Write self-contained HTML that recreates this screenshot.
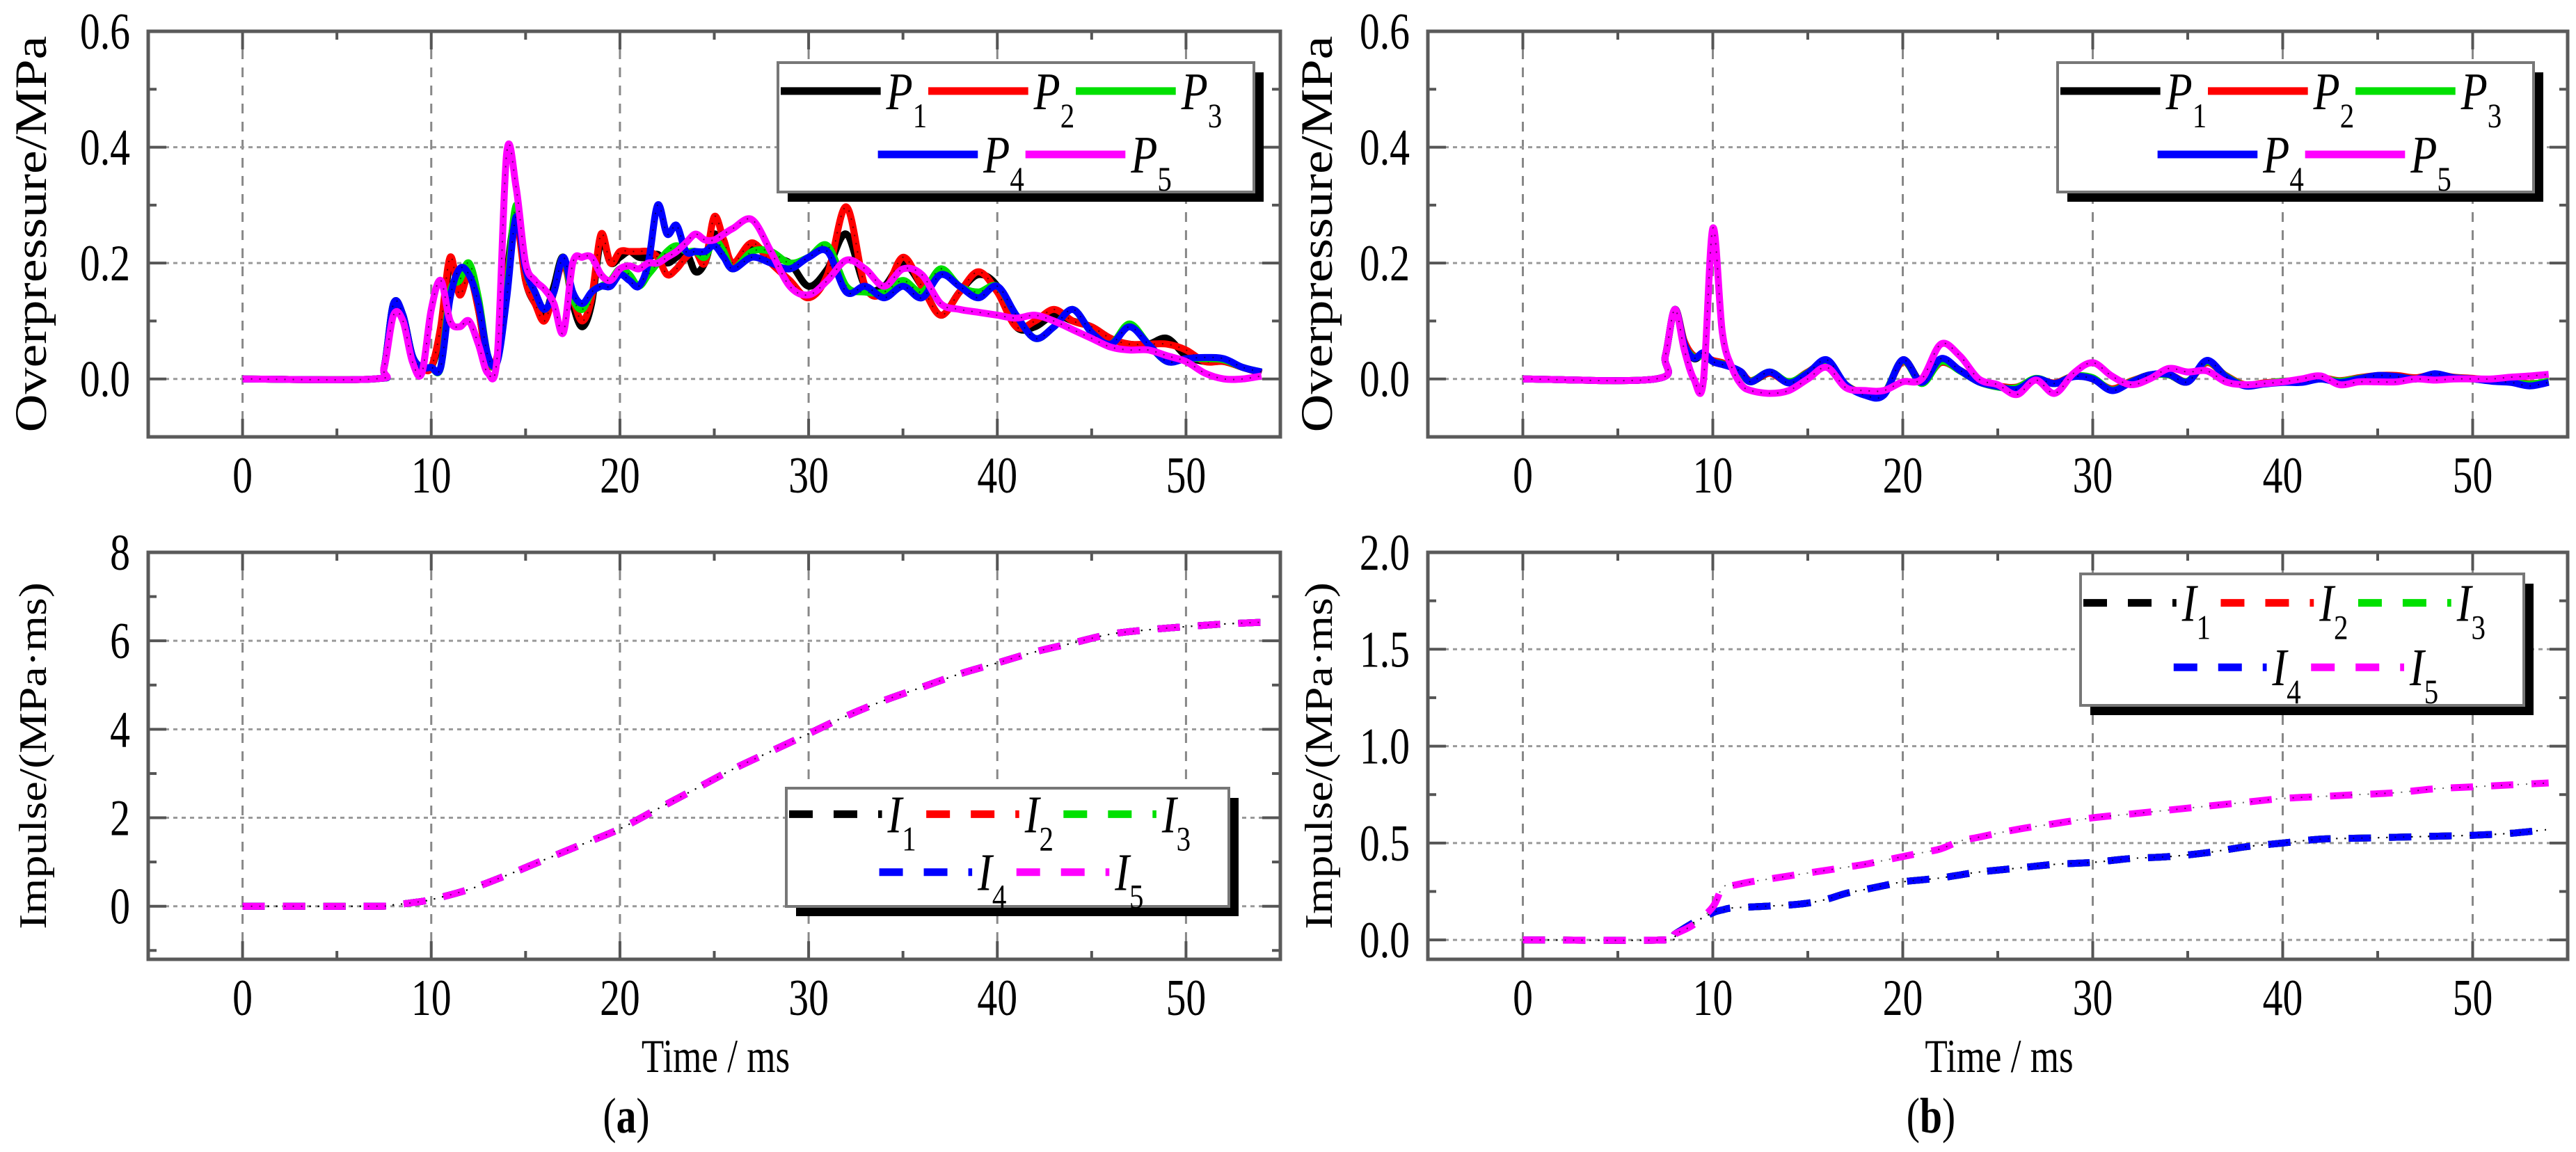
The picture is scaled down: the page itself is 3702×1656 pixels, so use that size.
<!DOCTYPE html>
<html><head><meta charset="utf-8"><style>
html,body{margin:0;padding:0;background:#fff;width:3702px;height:1656px;overflow:hidden}
svg{display:block;font-family:"Liberation Serif",serif}
</style></head><body>
<svg id="fig" width="3702" height="1656" viewBox="0 0 3702 1656"></svg>
<script>
// ---------- data ----------
const timesP = [0,7,7.5,8,8.5,9,9.5,10,10.5,11,11.5,12,12.5,13,13.5,14,14.5,15,15.5,16,16.5,17,17.5,18,18.5,19,19.5,20,20.5,21,21.5,22,22.5,23,23.5,24,24.5,25,25.5,26,27,28,29,30,31,32,33,34,35,36,37,38,39,40,41,42,43,44,45,46,47,48,49,50,51,52,53,54];
const p1a = [0,0,0.02,0.12,0.11,0.04,0.02,0.02,0.08,0.2,0.16,0.19,0.12,0.03,0.04,0.18,0.28,0.17,0.13,0.11,0.16,0.21,0.13,0.09,0.13,0.24,0.2,0.21,0.22,0.21,0.21,0.215,0.2,0.21,0.22,0.185,0.2,0.25,0.22,0.19,0.23,0.21,0.2,0.16,0.19,0.25,0.16,0.16,0.2,0.16,0.11,0.15,0.18,0.16,0.09,0.09,0.11,0.1,0.09,0.07,0.06,0.06,0.07,0.04,0.03,0.03,0.02,0.01];
const p2a = [0,0,0.02,0.13,0.11,0.04,0.02,0.02,0.09,0.21,0.145,0.18,0.12,0.03,0.04,0.17,0.27,0.17,0.13,0.1,0.15,0.2,0.14,0.1,0.14,0.25,0.2,0.22,0.22,0.22,0.22,0.21,0.18,0.19,0.21,0.22,0.2,0.28,0.24,0.2,0.235,0.2,0.17,0.14,0.18,0.297,0.16,0.15,0.21,0.16,0.11,0.15,0.185,0.15,0.09,0.1,0.12,0.1,0.09,0.07,0.06,0.06,0.06,0.05,0.03,0.03,0.02,0.01];
const p3a = [0,0,0.02,0.13,0.11,0.04,0.02,0.02,0.02,0.15,0.17,0.2,0.14,0.04,0.03,0.15,0.3,0.19,0.15,0.12,0.15,0.21,0.14,0.12,0.15,0.16,0.17,0.19,0.18,0.16,0.18,0.2,0.22,0.23,0.22,0.22,0.21,0.24,0.22,0.19,0.22,0.22,0.2,0.21,0.23,0.16,0.15,0.15,0.17,0.15,0.19,0.16,0.15,0.16,0.11,0.07,0.09,0.12,0.08,0.06,0.095,0.06,0.03,0.035,0.035,0.033,0.02,0.012];
const p4a = [0,0,0.02,0.13,0.11,0.04,0.02,0.02,0.02,0.14,0.19,0.18,0.13,0.04,0.03,0.14,0.28,0.19,0.15,0.12,0.15,0.21,0.15,0.13,0.15,0.16,0.16,0.18,0.17,0.16,0.2,0.3,0.25,0.265,0.22,0.22,0.22,0.23,0.21,0.19,0.21,0.2,0.19,0.21,0.22,0.15,0.16,0.14,0.16,0.14,0.18,0.16,0.14,0.16,0.11,0.07,0.09,0.12,0.08,0.06,0.09,0.06,0.03,0.035,0.037,0.035,0.02,0.012];
const p5a = [0,0,0.02,0.11,0.1,0.03,0.01,0.12,0.17,0.1,0.09,0.1,0.06,0.01,0.04,0.39,0.33,0.2,0.17,0.155,0.13,0.08,0.2,0.21,0.21,0.18,0.17,0.19,0.195,0.19,0.2,0.2,0.21,0.22,0.235,0.25,0.24,0.24,0.25,0.26,0.275,0.22,0.16,0.145,0.17,0.205,0.19,0.16,0.19,0.18,0.13,0.12,0.115,0.11,0.105,0.11,0.1,0.085,0.07,0.055,0.05,0.05,0.04,0.03,0.01,0,0,0.005];

const timesPb = [0,7,7.5,8,8.5,9,9.5,10,10.5,11,11.5,12,13,14,15,16,17,18,19,20,21,22,23,24,25,26,27,28,29,30,31,32,33,34,35,36,37,38,39,40,41,42,43,44,45,46,47,48,49,50,51,52,53,54];
const p1b = [0,0,0.04,0.12,0.06,0.035,0.042,0.03,0.025,0.02,0.01,-0.005,0.01,-0.005,0.01,0.03,-0.01,-0.027,-0.027,0.033,-0.005,0.03,0.015,-0.005,-0.013,-0.015,0,-0.008,0.005,0,-0.019,-0.005,0.007,0.007,-0.005,0.031,0.005,-0.011,-0.008,-0.005,-0.005,0,-0.005,0,0.005,0.005,0,0.008,0.002,0,-0.003,-0.005,-0.01,-0.005];
const p2b = [0,0,0.04,0.12,0.065,0.04,0.04,0.032,0.028,0.02,0.012,-0.003,0.01,-0.006,0.012,0.028,-0.01,-0.025,-0.025,0.03,-0.005,0.028,0.015,-0.004,-0.012,-0.014,0,-0.007,0.005,0,-0.017,-0.004,0.006,0.008,-0.004,0.028,0.006,-0.01,-0.007,-0.004,-0.003,0.002,-0.003,0.002,0.006,0.006,0.002,0.008,0.003,0.001,-0.002,-0.004,-0.008,-0.006];
const p3b = [0,0,0.04,0.12,0.06,0.038,0.04,0.03,0.026,0.02,0.01,-0.004,0.012,-0.005,0.011,0.031,-0.01,-0.026,-0.026,0.032,-0.008,0.03,0.014,-0.005,-0.014,-0.015,0.001,-0.008,0.005,0.002,-0.019,-0.005,0.006,0.007,-0.004,0.03,0.005,-0.011,-0.008,-0.004,-0.004,0.001,-0.004,0.001,0.005,0.004,0,0.007,0.002,0,-0.003,-0.005,-0.009,-0.004];
const p4b = [0,0,0.04,0.12,0.06,0.036,0.045,0.03,0.025,0.02,0.012,-0.005,0.012,-0.007,0.01,0.033,-0.01,-0.028,-0.028,0.033,-0.006,0.035,0.015,-0.005,-0.013,-0.018,0,-0.008,0.004,0,-0.02,-0.006,0.007,0.008,-0.005,0.032,0.004,-0.012,-0.009,-0.006,-0.006,0,-0.006,0,0.006,0.004,0,0.009,0.002,0,-0.004,-0.006,-0.012,-0.006];
const p5b = [0,0,0.04,0.12,0.05,0,-0.005,0.26,0.08,0.02,-0.01,-0.02,-0.025,-0.02,0,0.02,-0.015,-0.02,-0.02,-0.005,0,0.06,0.04,0,-0.01,-0.027,-0.002,-0.025,0.01,0.028,0.005,-0.01,0,0.018,0.012,0.014,-0.005,-0.01,-0.008,-0.005,0,0.005,-0.01,-0.005,-0.005,-0.005,0,-0.002,0,0,0,0.003,0.005,0.008];

const timesIa = [0,7,8,9,10,12,14,16,18,20,22,24,26,28,30,32,34,36,38,40,42,44,46,48,50,52,54];
const iaAll = [0,0,0.03,0.08,0.15,0.38,0.7,1.05,1.4,1.75,2.2,2.65,3.1,3.5,3.9,4.3,4.65,4.95,5.25,5.5,5.75,5.95,6.15,6.25,6.32,6.38,6.42];

const timesIb = [0,7.5,8,9,10,10.5,11,12,13,14,15,16,17,18,19,20,21,22,23,24,26,28,30,32,34,36,38,40,42,44,46,48,50,52,54];
const ib14 = [0,0,0.03,0.09,0.14,0.155,0.165,0.17,0.175,0.18,0.19,0.21,0.24,0.26,0.28,0.3,0.31,0.32,0.335,0.35,0.37,0.39,0.4,0.42,0.43,0.45,0.48,0.5,0.52,0.525,0.53,0.535,0.54,0.55,0.57];
const ib5  = [0,0,0.03,0.08,0.17,0.27,0.28,0.3,0.315,0.33,0.345,0.36,0.375,0.39,0.41,0.43,0.45,0.47,0.51,0.53,0.57,0.6,0.63,0.65,0.67,0.69,0.71,0.73,0.74,0.75,0.76,0.78,0.79,0.8,0.81];

const colors = ['#000000','#ff0000','#00e000','#0000ff','#ff00ff'];
const xTicks = [0,10,20,30,40,50];
const yTicksP = [0.0,0.2,0.4,0.6];
const yTicksIa = [0,2,4,6,8];
const yTicksIb = [0.0,0.5,1.0,1.5,2.0];

// ---------- helpers ----------
const NS='http://www.w3.org/2000/svg';
const svg=document.getElementById('fig');
function mk(tag,attrs,parent){const e=document.createElementNS(NS,tag);for(const k in attrs)e.setAttribute(k,attrs[k]);(parent||svg).appendChild(e);return e;}
// narrow (horizontally compressed) text like the reference
function ntext(parent,x,y,size,anchor,str,sx){
  const t=mk('text',{x:0,y:0,"font-size":size,"text-anchor":anchor,transform:'translate('+x+' '+y+') scale('+(sx||0.78)+' 1)'},parent);
  t.textContent=str;
  return t;
}
function smoothPath(pts){
  let d='M'+pts[0][0].toFixed(1)+','+pts[0][1].toFixed(1);
  for(let i=0;i<pts.length-1;i++){
    const p0=pts[Math.max(0,i-1)],p1=pts[i],p2=pts[i+1],p3=pts[Math.min(pts.length-1,i+2)];
    const c1x=p1[0]+(p2[0]-p0[0])/6,c1y=p1[1]+(p2[1]-p0[1])/6;
    const c2x=p2[0]-(p3[0]-p1[0])/6,c2y=p2[1]-(p3[1]-p1[1])/6;
    d+=' C'+c1x.toFixed(1)+','+c1y.toFixed(1)+' '+c2x.toFixed(1)+','+c2y.toFixed(1)+' '+p2[0].toFixed(1)+','+p2[1].toFixed(1);
  }
  return d;
}

function panel(cfg){
  const g=mk('g',{});
  
  
  const X=v=>cfg.x0+(v-(-5))/(60)*(cfg.x1-cfg.x0);
  const Y=v=>cfg.y1-(v-cfg.ymin)/(cfg.ymax-cfg.ymin)*(cfg.y1-cfg.y0);
  xTicks.forEach(t=>{
    const l=mk('line',{x1:X(t),x2:X(t),y1:cfg.y0,y2:cfg.y1,stroke:'#888',"stroke-width":3,"stroke-dasharray":'14,12'},g);
    
    
  });
  cfg.yticks.forEach(t=>{
    const l=mk('line',{x1:cfg.x0,x2:cfg.x1,y1:Y(t),y2:Y(t),stroke:'#999',"stroke-width":3,"stroke-dasharray":'6,6'},g);
    
    
  });
  for(let t=-5;t<=55;t+=5){
    const len=(t%10===0)?26:12;
    mk('line',{x1:X(t),x2:X(t),y1:cfg.y1,y2:cfg.y1-len,stroke:'#555',"stroke-width":4},g);
    mk('line',{x1:X(t),x2:X(t),y1:cfg.y0,y2:cfg.y0+len,stroke:'#555',"stroke-width":4},g);
  }
  const step=cfg.yticks[1]-cfg.yticks[0];
  for(let v=cfg.yticks[0]-step/2;v<=cfg.ymax+1e-9;v+=step/2){
    if(v<cfg.ymin-1e-9)continue;
    const major=Math.abs(((v-cfg.yticks[0])/step)-Math.round((v-cfg.yticks[0])/step))<1e-6;
    const len=major?26:12;
    mk('line',{x1:cfg.x0,x2:cfg.x0+len,y1:Y(v),y2:Y(v),stroke:'#555',"stroke-width":4},g);
    mk('line',{x1:cfg.x1,x2:cfg.x1-len,y1:Y(v),y2:Y(v),stroke:'#555',"stroke-width":4},g);
  }
  cfg.series.forEach((s,i)=>{
    const pts=s.t.map((t,j)=>[X(t),Y(s.v[j])]);
    const p=mk('path',{d:smoothPath(pts),fill:'none',stroke:s.c,"stroke-width":10,"stroke-linejoin":'round',"stroke-dasharray":s.dash||'none'},g);
    
    
    const q=mk('path',{d:smoothPath(pts),fill:'none',stroke:'#000',"stroke-width":2,"stroke-dasharray":'2,10',opacity:0.6},g);
    
    
  });
  const fr=mk('rect',{x:cfg.x0,y:cfg.y0,width:cfg.x1-cfg.x0,height:cfg.y1-cfg.y0,fill:'none',stroke:'#5a5a5a',"stroke-width":5},g);
  
  
  xTicks.forEach(t=>{
    const tx=ntext(g,X(t),cfg.y1+80,74,'middle',String(t));
    
    
  });
  cfg.yticks.forEach(t=>{
    const tx=ntext(g,cfg.x0-26,Y(t)+25,74,'end',t.toFixed(cfg.dec));
    
    
  });
  const cy=(cfg.y0+cfg.y1)/2;
  const yt=mk('text',{x:0,y:0,"font-size":cfg.ytsize,"text-anchor":'middle',transform:'translate('+cfg.ytx+' '+cy+') rotate(-90) scale(1 0.85)'},g);
  yt.textContent=cfg.ytitle;
  
  
  if(cfg.xtitle){
    const xt=ntext(g,(X(0)+X(50))/2+2,cfg.y1+162,68,'middle',cfg.xtitle);
    
    
  }
  return g;
}

function legend(x,y,w,h,letter,dashed){
  const g=mk('g',{});
  
  
  mk('rect',{x:x+14,y:y+14,width:w,height:h,fill:'#000'},g);
  mk('rect',{x:x,y:y,width:w,height:h,fill:'#fff',stroke:'#777',"stroke-width":4},g);
  const L=[[0,0],[0,1],[0,2],[1,0],[1,1]];
  const rowY=[y+h*0.22,y+h*0.71];
  const segW=w*0.21, labW=w*0.1;
  L.forEach((rc,i)=>{
    const r=rc[0],c=rc[1];
    const sx=(r===0?x+4:x+w*0.21)+c*(segW+labW);
    const ln=mk('line',{x1:sx,x2:sx+segW,y1:rowY[r],y2:rowY[r],stroke:colors[i],"stroke-width":11,"stroke-dasharray":dashed?'34,30':'none'},g);
    
    
    const tx=sx+segW+8, ty=rowY[r]+26;
    const t=mk('text',{x:0,y:0,"font-size":76,"font-style":'italic',transform:'translate('+tx+' '+ty+') scale(0.82 1)'},g);
    t.textContent=letter;
    const sub=mk('tspan',{dy:26,"font-size":50,"font-style":'normal'},t);
    sub.textContent=String(i+1);
    
    
  });
}

const mkSeries=(t,arrs,names,dash)=>arrs.map((v,i)=>({t:t,v:v,c:colors[i],name:names[i],dash:dash}));
panel({name:'panel-a-overpressure',x0:213,x1:1840,y0:45,y1:628,ymin:-0.1,ymax:0.6,yticks:yTicksP,dec:1,ytitle:'Overpressure/MPa',ytx:66,ytsize:76,
  series:mkSeries(timesP,[p1a,p2a,p3a,p4a,p5a],['series-p1','series-p2','series-p3','series-p4','series-p5'])});
panel({name:'panel-a-impulse',x0:213,x1:1840,y0:794,y1:1379,ymin:-1.2,ymax:8,yticks:yTicksIa,dec:0,ytitle:'Impulse/(MPa·ms)',ytx:66,ytsize:66,xtitle:'Time / ms',
  series:mkSeries(timesIa,[iaAll,iaAll,iaAll,iaAll,iaAll],['series-i1','series-i2','series-i3','series-i4','series-i5'],'32,26')});
panel({name:'panel-b-overpressure',x0:2052,x1:3690,y0:45,y1:628,ymin:-0.1,ymax:0.6,yticks:yTicksP,dec:1,ytitle:'Overpressure/MPa',ytx:1914,ytsize:76,
  series:mkSeries(timesPb,[p1b,p2b,p3b,p4b,p5b],['series-p1','series-p2','series-p3','series-p4','series-p5'])});
panel({name:'panel-b-impulse',x0:2052,x1:3690,y0:794,y1:1379,ymin:-0.1,ymax:2.0,yticks:yTicksIb,dec:1,ytitle:'Impulse/(MPa·ms)',ytx:1914,ytsize:66,xtitle:'Time / ms',
  series:mkSeries(timesIb,[ib14,ib14,ib14,ib14,ib5],['series-i1','series-i2','series-i3','series-i4','series-i5'],'32,26')});

legend(1118,90,684,186,'P',false);
legend(2957,90,684,186,'P',false);
legend(1130,1133,636,170,'I',true);
legend(2990,825,637,189,'I',true);

const la=mk('text',{x:0,y:0,"font-size":72,"text-anchor":'middle',transform:'translate(900 1628) scale(0.8 1)'});
la.innerHTML='(<tspan font-weight="bold">a</tspan>)';


const lb=mk('text',{x:0,y:0,"font-size":72,"text-anchor":'middle',transform:'translate(2775 1628) scale(0.8 1)'});
lb.innerHTML='(<tspan font-weight="bold">b</tspan>)';


</script>
</body></html>
